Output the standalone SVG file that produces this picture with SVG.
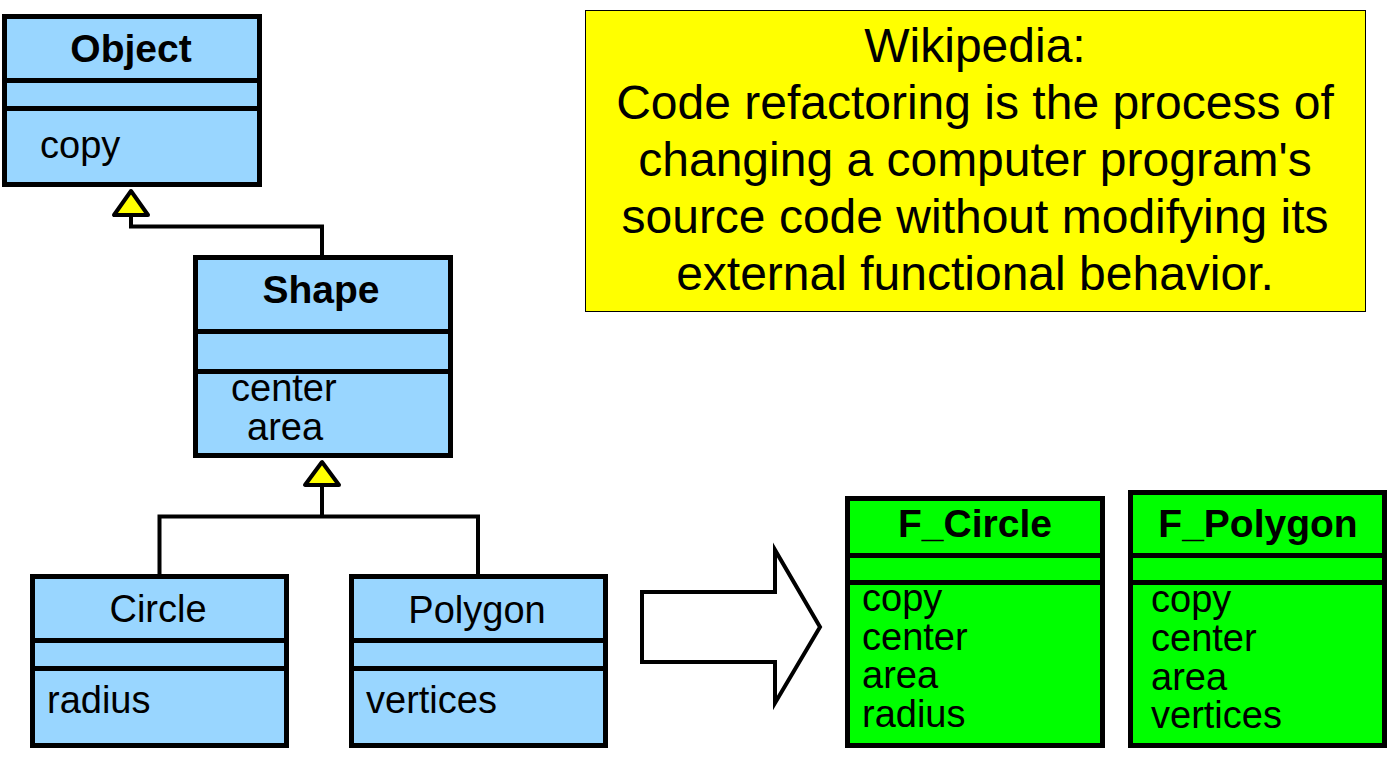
<svg xmlns="http://www.w3.org/2000/svg" width="1388" height="762" viewBox="0 0 1388 762">
<style>
.cls{fill:#99D6FF;stroke:#000;stroke-width:5}
.fcls{fill:#00FF00;stroke:#000;stroke-width:5}
.div{stroke:#000;stroke-width:5}
.t{font-family:"Liberation Sans",Arial,sans-serif;font-size:38px;fill:#000}
.b{font-weight:bold;font-size:39px}
.c{text-anchor:middle}
.wire{fill:none;stroke:#000;stroke-width:4}
.tri{fill:#FFFF00;stroke:#000;stroke-width:4;stroke-linejoin:round}
.note{font-family:"Liberation Sans",Arial,sans-serif;font-size:48px;fill:#000;text-anchor:middle}
</style>
<rect width="1388" height="762" fill="#fff"/>
<g id="note">
<rect x="585.5" y="10.5" width="780" height="301" fill="#FFFF00" stroke="#000" stroke-width="1"/>
<text class="note" x="975" y="62">Wikipedia:</text>
<text class="note" x="975" y="119">Code refactoring is the process of</text>
<text class="note" x="975" y="176">changing a computer program's</text>
<text class="note" x="975" y="233">source code without modifying its</text>
<text class="note" x="975" y="290">external functional behavior.</text>
</g>
<g id="connectors">
<polyline class="wire" points="131,215 131,226.5 322,226.5 322,257.5"/>
<polyline class="wire" points="322,485 322,516.5"/>
<polyline class="wire" points="159.5,576.5 159.5,516.5 478,516.5 478,576.5"/>
<polygon class="tri" points="131,191 114,215 148,215"/>
<polygon class="tri" points="322,462 305,485 339,485"/>
</g>
<g id="Object">
<rect class="cls" x="4.5" y="16.5" width="255" height="168"/>
<line class="div" x1="4.5" y1="80.5" x2="259.5" y2="80.5"/>
<line class="div" x1="4.5" y1="108.5" x2="259.5" y2="108.5"/>
<text class="t b c" x="131" y="62">Object</text>
<text class="t" x="40" y="158">copy</text>
</g>
<g id="Shape">
<rect class="cls" x="195.5" y="257.5" width="255" height="198"/>
<line class="div" x1="195.5" y1="331.5" x2="450.5" y2="331.5"/>
<line class="div" x1="195.5" y1="371.5" x2="450.5" y2="371.5"/>
<text class="t b c" x="321" y="303">Shape</text>
<text class="t" x="231" y="401">center</text>
<text class="t" x="247" y="440">area</text>
</g>
<g id="Circle">
<rect class="cls" x="32.5" y="576.5" width="254" height="169"/>
<line class="div" x1="32.5" y1="640.5" x2="286.5" y2="640.5"/>
<line class="div" x1="32.5" y1="668.5" x2="286.5" y2="668.5"/>
<text class="t c" x="158" y="622">Circle</text>
<text class="t" x="47" y="713">radius</text>
</g>
<g id="Polygon">
<rect class="cls" x="351.5" y="576.5" width="254" height="169"/>
<line class="div" x1="351.5" y1="640.5" x2="605.5" y2="640.5"/>
<line class="div" x1="351.5" y1="668.5" x2="605.5" y2="668.5"/>
<text class="t c" x="477" y="623">Polygon</text>
<text class="t" x="366" y="713">vertices</text>
</g>
<g id="arrow">
<polygon points="642,592 775,592 775,550 820,627 775,703 775,662 642,662" fill="#fff" stroke="#000" stroke-width="4"/>
</g>
<g id="F_Circle">
<rect class="fcls" x="847.5" y="498.5" width="255" height="247"/>
<line class="div" x1="847.5" y1="555.5" x2="1102.5" y2="555.5"/>
<line class="div" x1="847.5" y1="582.5" x2="1102.5" y2="582.5"/>
<text class="t b c" x="975" y="537">F_Circle</text>
<text class="t" x="862" y="611">copy</text>
<text class="t" x="862" y="650">center</text>
<text class="t" x="862" y="688">area</text>
<text class="t" x="862" y="727">radius</text>
</g>
<g id="F_Polygon">
<rect class="fcls" x="1130.5" y="492.5" width="254" height="253"/>
<line class="div" x1="1130.5" y1="555.5" x2="1384.5" y2="555.5"/>
<line class="div" x1="1130.5" y1="582.5" x2="1384.5" y2="582.5"/>
<text class="t b c" x="1258" y="537">F_Polygon</text>
<text class="t" x="1151" y="612">copy</text>
<text class="t" x="1151" y="651">center</text>
<text class="t" x="1151" y="690">area</text>
<text class="t" x="1151" y="728">vertices</text>
</g>
</svg>
